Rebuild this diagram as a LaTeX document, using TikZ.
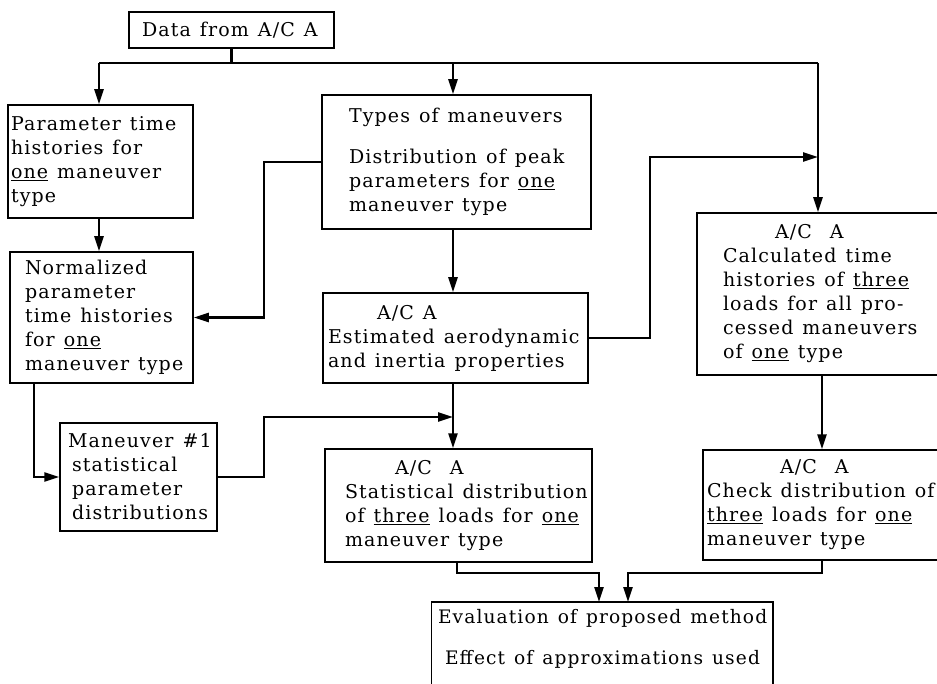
\documentclass[tikz,border=0pt]{standalone}
\usepackage{fontspec}
\setmainfont{DejaVu Serif}[LetterSpace=6]
\usetikzlibrary{arrows.meta}
\begin{document}
\begin{tikzpicture}[x=1pt,y=-1pt,
  box/.style={draw, line width=1.5pt, align=left, inner ysep=0pt,
    font=\fontsize{19}{24}\selectfont,
    execute at begin node={\spaceskip=9pt\relax\hyphenpenalty=10000\exhyphenpenalty=10000\hbadness=10000\hfuzz=100pt}},
  conn/.style={line width=2.6pt},
  arr/.style={conn, -{Triangle[length=15pt,width=9pt]}},
  boxline/.style={line width=1.5pt}
]
\useasboundingbox (0,0) rectangle (937,684);
\clip (0,0) rectangle (937,684);

% boxes
\node[box, inner xsep=13pt, text width=179pt, minimum height=36pt] (data) at (231.5,30)
  {Data~from~A/C~A};
\node[box, inner xsep=3pt, text width=179pt, minimum height=113pt] (param) at (100.5,161.5)
  {Parameter~time\\ histories~for\\ \underline{one}~maneuver\\ type};
\node[box, inner xsep=27pt, text width=215pt, minimum height=134pt] (types) at (456.5,162)
  {Types~of~maneuvers\\[17pt] Distribution~of~peak\\ parameters~for~\underline{one}\\ maneuver~type};
\node[box, inner xsep=15pt, text width=153pt, minimum height=131pt] (norm) at (101.5,317.5)
  {Normalized\\ parameter\\ time~histories\\ for~\underline{one}\\ maneuver~type};
\node[box, inner xsep=5pt, text width=255pt, minimum height=90pt] (est) at (455.5,338)
  {\hspace*{49pt}A/C~A\\ Estimated~aerodynamic\\ and~inertia~properties};
\node[box, inner xsep=26pt, text width=201pt, minimum height=162pt] (calc) at (823.5,294)
  {\hspace*{52pt}A/C~~A\\ Calculated~time\\ histories~of~\underline{three}\\ loads~for~all~pro-\\ cessed~maneuvers\\ of~\underline{one}~type};
\node[box, inner xsep=8pt, text width=141pt, minimum height=108pt] (man) at (138.5,477)
  {Maneuver~\#1\\ \hspace*{4pt}statistical\\ \hspace*{4pt}parameter\\ \hspace*{4pt}distributions};
\node[box, inner xsep=20pt, text width=227pt, minimum height=113pt] (stat) at (458.5,505.5)
  {\hspace*{50pt}A/C~~A\\ Statistical~distribution\\ of~\underline{three}~loads~for~\underline{one}\\ maneuver~type};
\node[box, inner xsep=4pt, text width=239pt, minimum height=110pt] (check) at (826.5,505)
  {\hspace*{73pt}A/C~~A\\ Check~distribution~of\\ \underline{three}~loads~for~\underline{one}\\ maneuver~type};
\node[box, draw=none, inner xsep=6pt, text width=328pt, font=\fontsize{18.6}{24}\selectfont] (eval) at (602,639)
  {Evaluation~of~proposed~method\\[17pt] \hspace*{7pt}Effect~of~approximations~used};
\coordinate (evtop) at (0,602);
\coordinate (evbot) at (0,695);
\draw[boxline] (eval.west |- evbot) -- (eval.west |- evtop) -- (eval.east |- evtop) -- (eval.east |- evbot);

% top bus
\coordinate (busL) at (99,63);
\coordinate (busM) at (453,63);
\coordinate (busR) at (818,63);
\draw[conn] (data.south) -- (data.south |- busL);
\draw[conn] (busL) -- (busR);
\draw[arr] (busL) -- (busL |- param.north);
\draw[arr] (busM) -- (busM |- types.north);
\draw[arr] (busR) -- (busR |- calc.north);

% left column
\draw[arr] (busL |- param.south) -- (busL |- norm.north);
\coordinate (k1) at (264,317.5);
\draw[arr] (types.west) -| (k1) -- (norm.east);
\coordinate (k4) at (34,477);
\draw[arr] (k4 |- norm.south) -- (k4) -- (man.west);
\coordinate (k5) at (264,417);
\coordinate (k6) at (453,417);
\draw[arr] (man.east) -| (k5) -- (k6);

% middle column
\draw[arr] (busM |- types.south) -- (busM |- est.north);
\draw[arr] (busM |- est.south) -- (busM |- stat.north);
\coordinate (k2) at (650,157);
\coordinate (k3) at (818,157);
\draw[arr] (est.east) -| (k2) -- (k3);

% right column
\coordinate (cx) at (822,0);
\draw[arr] (cx |- calc.south) -- (cx |- check.north);

% to evaluation
\coordinate (k7) at (457,573);
\coordinate (k8) at (599,573);
\draw[arr] (k7 |- stat.south) -- (k7) -- (k8) -- (k8 |- evtop);
\coordinate (k9) at (822,573);
\coordinate (k10) at (628,573);
\draw[arr] (k9 |- check.south) -- (k9) -- (k10) -- (k10 |- evtop);
\end{tikzpicture}
\end{document}
